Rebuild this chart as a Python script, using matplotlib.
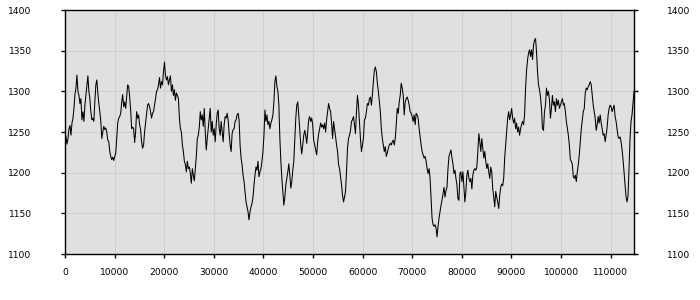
import numpy as np
import matplotlib
matplotlib.use('Agg')
import matplotlib.pyplot as plt

# values, left to right (about one per pixel column)
seg_a = [1248, 1244, 1235, 1242, 1254, 1258, 1246, 1261, 1267, 1279,
         1296, 1304, 1320, 1300, 1295, 1285, 1291, 1265, 1275, 1263,
         1283, 1295, 1308, 1319, 1300, 1291, 1275, 1265, 1267, 1263,
         1287, 1308, 1314, 1298, 1285, 1275, 1263, 1242, 1250, 1257,
         1253, 1255, 1250, 1240, 1238, 1226, 1220, 1216, 1219, 1215,
         1220, 1224, 1242, 1261, 1267, 1269, 1273, 1287, 1296, 1281,
         1287, 1279, 1293, 1308, 1306, 1293, 1277, 1254, 1256, 1254,
         1237, 1250, 1275, 1267, 1271, 1259, 1253, 1238, 1230, 1234,
         1250, 1261, 1273, 1283, 1285, 1281, 1275, 1267, 1273, 1275,
         1283, 1291, 1300]
seg_b = [1302, 1308, 1317, 1304, 1312, 1308, 1324, 1336, 1320, 1314,
         1318, 1308, 1314, 1319, 1300, 1308, 1295, 1302, 1289, 1298,
         1295, 1291, 1267, 1254, 1250, 1234, 1226, 1214, 1210, 1201,
         1214, 1205, 1207, 1199, 1187, 1205, 1197, 1190, 1205, 1220,
         1242, 1246, 1256, 1275, 1265, 1271, 1257, 1279, 1250, 1228,
         1242, 1254, 1267, 1279, 1250, 1263, 1246, 1254, 1238, 1259,
         1273, 1277, 1254, 1246, 1263, 1250, 1238, 1259, 1269, 1267,
         1273, 1265, 1248, 1234, 1226, 1248, 1253, 1254, 1263, 1265,
         1271, 1273, 1265, 1234, 1218, 1210, 1197, 1189, 1177, 1164,
         1158, 1152, 1142, 1152, 1158, 1162, 1170, 1185, 1197, 1207,
         1203, 1214]
seg_c = [1195, 1201, 1205, 1214, 1226, 1246, 1277, 1263, 1271, 1259,
         1263, 1254, 1261, 1265, 1271, 1287, 1312, 1319, 1306, 1300,
         1283, 1242, 1214, 1193, 1177, 1160, 1170, 1185, 1193, 1201,
         1211, 1197, 1181, 1189, 1203, 1214, 1242, 1267, 1283, 1287,
         1271, 1252, 1234, 1223, 1234, 1246, 1252, 1246, 1236, 1250,
         1265, 1269, 1263, 1267, 1259, 1240, 1234, 1228, 1222, 1238,
         1248, 1254, 1261, 1256, 1259, 1254, 1261, 1250, 1265, 1275,
         1285, 1279, 1275, 1261, 1242, 1263, 1254, 1244, 1234, 1226,
         1210, 1205, 1195, 1185, 1172, 1164, 1170, 1177, 1201, 1230,
         1242, 1246, 1252, 1263, 1265, 1269, 1259, 1248, 1275, 1295,
         1283]
seg_d = [1263, 1242, 1226, 1234, 1242, 1265, 1267, 1275, 1285, 1283,
         1291, 1293, 1283, 1295, 1312, 1326, 1330, 1324, 1310, 1300,
         1287, 1275, 1254, 1242, 1234, 1226, 1232, 1220, 1224, 1230,
         1234, 1236, 1234, 1238, 1240, 1234, 1242, 1259, 1279, 1273,
         1287, 1295, 1310, 1304, 1295, 1271, 1287, 1291, 1293, 1289,
         1283, 1275, 1273, 1269, 1263, 1271, 1259, 1273, 1271, 1267,
         1254, 1244, 1234, 1226, 1222, 1218, 1220, 1214, 1205, 1199,
         1205, 1193, 1168, 1144, 1136, 1134, 1136, 1132, 1121, 1134,
         1144, 1152, 1160, 1166, 1174, 1182, 1170, 1178, 1182, 1205,
         1220, 1224, 1228, 1218, 1211, 1199, 1203, 1193, 1185, 1168,
         1166]
seg_e = [1199, 1201, 1189, 1201, 1182, 1164, 1177, 1197, 1203, 1193,
         1189, 1193, 1180, 1197, 1203, 1205, 1203, 1207, 1226, 1248,
         1238, 1226, 1242, 1230, 1218, 1226, 1214, 1205, 1211, 1201,
         1193, 1207, 1201, 1180, 1170, 1158, 1177, 1170, 1164, 1156,
         1172, 1182, 1186, 1184, 1193, 1218, 1234, 1250, 1267, 1275,
         1265, 1271, 1279, 1267, 1261, 1267, 1254, 1261, 1250, 1256,
         1246, 1254, 1259, 1263, 1259, 1271, 1304, 1326, 1339, 1347,
         1351, 1343, 1351, 1339, 1357, 1363, 1365, 1349, 1324, 1308,
         1302, 1293, 1279, 1254, 1252, 1275, 1283, 1304, 1295, 1300,
         1289, 1267, 1279, 1295, 1283, 1287, 1275, 1291, 1283, 1289]
seg_f = [1279, 1283, 1287, 1291, 1283, 1285, 1275, 1263, 1254, 1246,
         1234, 1216, 1214, 1210, 1195, 1193, 1197, 1189, 1201, 1210,
         1222, 1238, 1254, 1265, 1275, 1279, 1298, 1304, 1302, 1306,
         1308, 1312, 1308, 1295, 1283, 1275, 1267, 1252, 1259, 1269,
         1261, 1271, 1261, 1254, 1246, 1248, 1238, 1246, 1256, 1271,
         1279, 1283, 1281, 1275, 1279, 1283, 1269, 1263, 1254, 1244,
         1242, 1244, 1238, 1228, 1216, 1201, 1185, 1170, 1164, 1172,
         1205, 1242, 1263, 1271, 1285, 1300]

values = seg_a + seg_b + seg_c + seg_d + seg_e + seg_f
x_max = 114700
x_ticks = list(range(0, 110001, 10000))
y_ticks = [1100, 1150, 1200, 1250, 1300, 1350, 1400]

x = np.linspace(0, x_max, len(values))

fig = plt.figure(figsize=(7, 3), dpi=100)
ax = fig.add_axes([65 / 700, 46 / 300, 569 / 700, 244 / 300])
ax.set_facecolor('#e0e0e0')

ax.plot(x, values, color='black', linewidth=0.75)

ax.set_xlim(0, x_max)
ax.set_ylim(1100, 1400)
ax.set_xticks(x_ticks)
ax.set_yticks(y_ticks)
ax.grid(True, color='#d0d0d0', linewidth=0.8)
ax.set_axisbelow(True)

for s in ax.spines.values():
    s.set_color('black')
    s.set_linewidth(1.0)

ax.tick_params(axis='both', direction='out', length=3, width=1,
               labelsize=6.6, colors='black')
ax.tick_params(axis='y', right=True, labelright=True, pad=21)
ax.tick_params(axis='x', pad=7)

fig.savefig('out.png', dpi=100)
